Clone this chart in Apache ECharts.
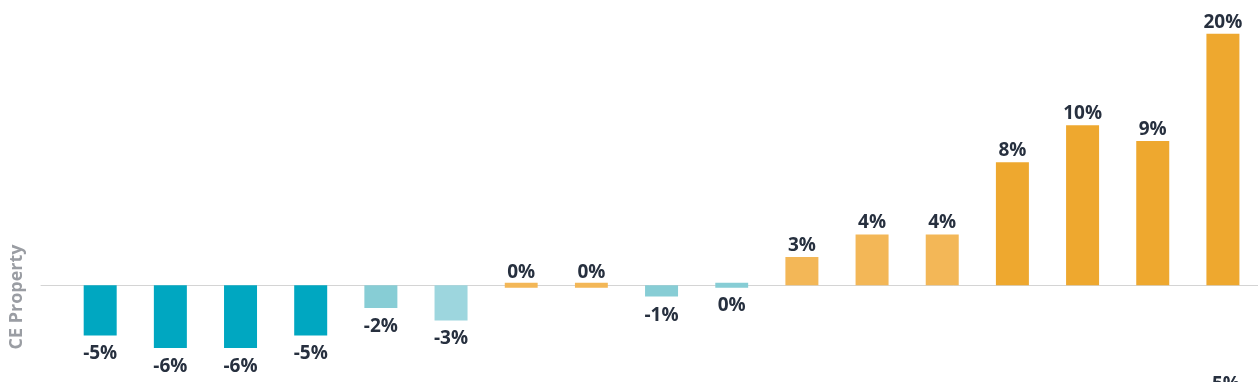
<!DOCTYPE html>
<html>
<head>
<meta charset="utf-8">
<script src="https://cdn.jsdelivr.net/npm/echarts@6/dist/echarts.min.js"></script>
<style>
  html, body { margin: 0; padding: 0; background: #ffffff; }
  #chart { width: 1258px; height: 382px; }
</style>
</head>
<body>
<div id="chart"></div>
<script>
// Categories (17 bars, left to right)
const categories = ['B1','B2','B3','B4','B5','B6','B7','B8','B9','B10','B11','B12','B13','B14','B15','B16','B17'];
// Bar heights (percent)
const barValues = [-4.0, -5.0, -5.0, -4.0, -1.8, -2.8, 0.01, 0.01, -0.9, -0.01, 2.25, 4.05, 4.05, 9.8, 12.75, 11.5, 20.05];
// Label texts shown on the bars
const barLabels = ['-5%','-6%','-6%','-5%','-2%','-3%','0%','0%','-1%','0%','3%','4%','4%','8%','10%','9%','20%'];
// Shade group of each bar
const barTiers = ['negStrong','negStrong','negStrong','negStrong','negMid','negLight','posLight','posLight','negMid','negMid','posLight','posLight','posLight','posStrong','posStrong','posStrong','posStrong'];
const axisTitle = 'CE Property';
const cutLabel = '5%';

const palette = {
  negStrong: '#00a7c1',
  negMid: '#87cdd5',
  negLight: '#9dd6de',
  posLight: '#f3b757',
  posStrong: '#eea82f'
};

const yMin = -7.4, yMax = 22;
const pxPerUnit = 12.55;
const zeroY = 285.3;
const gridTop = zeroY - yMax * pxPerUnit;
const gridHeight = (yMax - yMin) * pxPerUnit;
const band = 70.79;
const firstCenter = 100.5;

const labelFont = { fontFamily: 'Open Sans', fontWeight: 'bold', fontSize: 19, color: '#27303f' };

const seriesData = barValues.map((v, i) => {
  const c = palette[barTiers[i]];
  const tiny = Math.abs(v) < 0.1;
  return {
    value: v,
    itemStyle: tiny ? { color: c, borderColor: c, borderWidth: 5 } : { color: c },
    label: {
      show: true,
      position: v < 0 ? 'bottom' : 'top',
      distance: v < 0 ? (tiny ? 8 : 9) : (tiny ? 1 : 2),
      formatter: () => barLabels[i],
      ...labelFont
    }
  };
});

const chart = echarts.init(document.getElementById('chart'), null, { renderer: 'canvas' });
chart.setOption({
  animation: false,
  backgroundColor: '#ffffff',
  grid: [
    { left: firstCenter - band / 2, top: gridTop, width: band * categories.length, height: gridHeight, containLabel: false },
    { left: 41, right: 0, top: gridTop, height: gridHeight, containLabel: false }
  ],
  xAxis: [
    { type: 'category', gridIndex: 0, data: categories, axisLine: { show: false }, axisTick: { show: false }, axisLabel: { show: false }, splitLine: { show: false } },
    { type: 'category', gridIndex: 1, data: [''], axisLine: { show: true, onZero: true, lineStyle: { color: '#d4d4d4', width: 1 } }, axisTick: { show: false }, axisLabel: { show: false }, splitLine: { show: false } }
  ],
  yAxis: [
    { type: 'value', gridIndex: 0, min: yMin, max: yMax, axisLine: { show: false }, axisTick: { show: false }, axisLabel: { show: false }, splitLine: { show: false } },
    { type: 'value', gridIndex: 1, min: yMin, max: yMax, axisLine: { show: false }, axisTick: { show: false }, axisLabel: { show: false }, splitLine: { show: false } }
  ],
  graphic: [
    {
      type: 'text', x: 17, y: 297, rotation: Math.PI / 2,
      style: { text: axisTitle, fontFamily: 'Open Sans', fontWeight: 'bold', fontSize: 18, fill: '#9a9da3', align: 'center', verticalAlign: 'middle' }
    },
    {
      type: 'text', x: 1226, y: 375,
      style: { text: cutLabel, fontFamily: 'Open Sans', fontWeight: 'bold', fontSize: 19, fill: '#27303f', align: 'center', verticalAlign: 'top' }
    }
  ],
  series: [
    {
      type: 'bar',
      xAxisIndex: 0, yAxisIndex: 0,
      barWidth: 33,
      data: seriesData
    }
  ]
});
</script>
</body>
</html>
